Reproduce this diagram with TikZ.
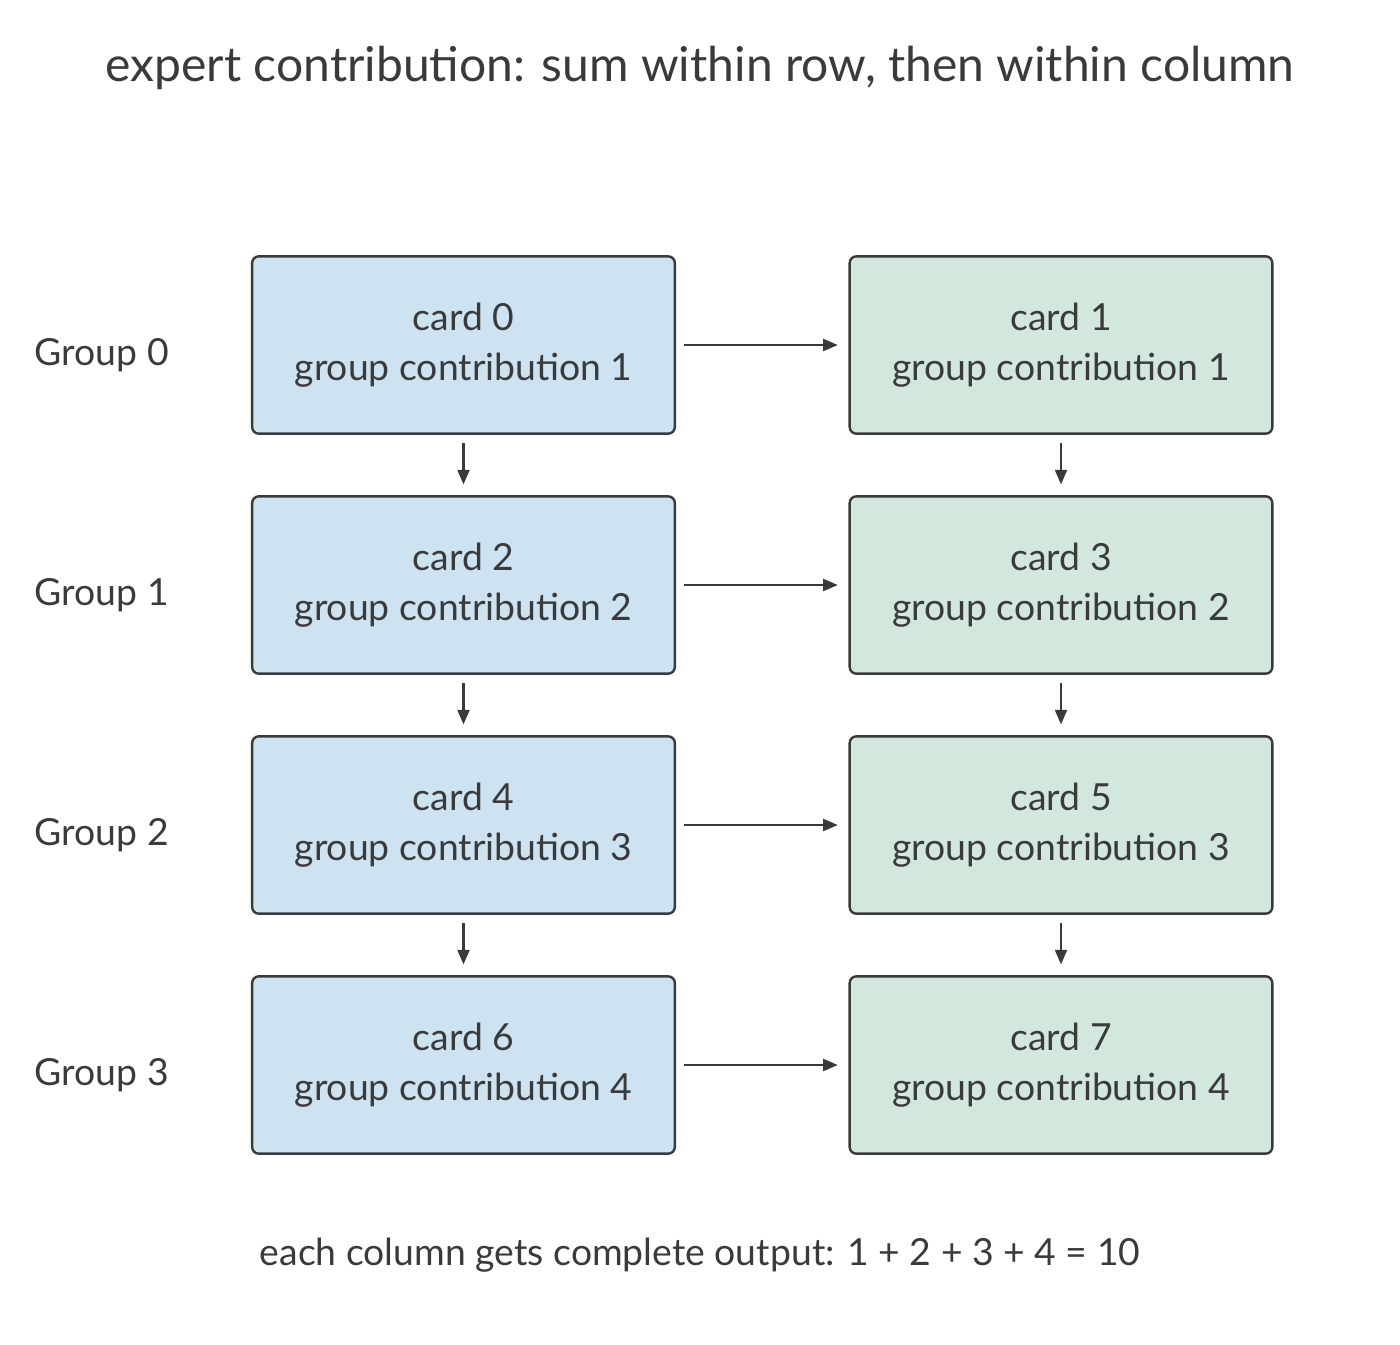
\documentclass[tikz,border=0pt]{standalone}
\usepackage{fontspec}
\setmainfont{Lato}
\usetikzlibrary{arrows.meta}
\definecolor{ink}{HTML}{3A3A3A}
\definecolor{bl}{HTML}{CDE3F2}
\definecolor{gr}{HTML}{D2E8DC}
\begin{document}
\begin{tikzpicture}[x=0.75pt,y=-0.75pt,
  card/.style={draw=ink,line width=1.8pt,rounded corners=5pt,minimum width=317pt,minimum height=133pt,align=center,font=\fontsize{28}{37}\selectfont,text=ink,inner sep=0pt},
  lbl/.style={font=\fontsize{28}{34}\selectfont,text=ink,anchor=west},
  arr/.style={draw=ink,line width=1.6pt,-{Triangle[length=11pt,width=9pt]}}]
\useasboundingbox (0,0) rectangle (1400,1345);
\node[font=\fontsize{36}{44}\selectfont,text=ink] (title) at (700,68) {expert contribution: sum within row, then within column};
\foreach \r/\y/\a/\b in {0/345/0/1,1/585/2/3,2/825/4/5,3/1065/6/7}{
  \pgfmathtruncatemacro{\g}{\r+1}
  \node[card,fill=bl] (L\r) at (463.5,\y) {card \a\\group contribution \g};
  \node[card,fill=gr] (R\r) at (1061,\y) {card \b\\group contribution \g};
  \node[lbl] (G\r) at (30,\y+10) {Group \r};
  \draw[arr] ([xshift=6pt]L\r.east) -- ([xshift=-8pt]R\r.west);
}
\foreach \r/\s in {0/1,1/2,2/3}{
  \draw[arr] ([yshift=-6pt]L\r.south) -- ([yshift=8pt]L\s.north);
  \draw[arr] ([yshift=-6pt]R\r.south) -- ([yshift=8pt]R\s.north);
}
\node[font=\fontsize{28}{34}\selectfont,text=ink] (foot) at (700,1255) {each column gets complete output: 1 + 2 + 3 + 4 = 10};
\end{tikzpicture}
\end{document}
